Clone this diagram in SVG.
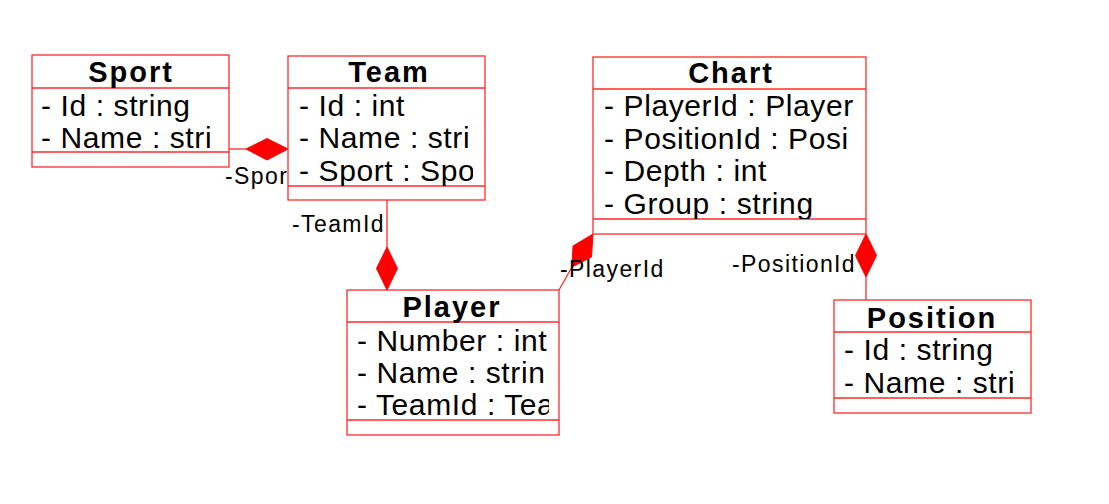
<svg xmlns="http://www.w3.org/2000/svg" width="1109" height="504" viewBox="0 0 1109 504">
<style>
.box{fill:#fff;stroke:#ff2a2a;stroke-width:1.3}
.sep{stroke:#ff2a2a;stroke-width:1.3}
.ttl{font-family:"Liberation Sans",Arial,sans-serif;font-weight:bold;font-size:29px;letter-spacing:2px;fill:#000;text-anchor:middle}
.att{font-family:"Liberation Sans",Arial,sans-serif;font-size:30px;letter-spacing:0.6px;fill:#000}
.lbl{font-family:"Liberation Sans",Arial,sans-serif;font-size:23px;letter-spacing:1.4px;fill:#000}
.ln{stroke:#ff2a2a;stroke-width:1.3;fill:none}
.dia{fill:#ff0000;stroke:#ff0000;stroke-width:1}
</style>
<defs>
<clipPath id="cSport"><rect x="32" y="88" width="185" height="64"/></clipPath>
<clipPath id="cTeam"><rect x="288" y="88" width="185" height="98"/></clipPath>
<clipPath id="cChart"><rect x="593" y="88" width="263" height="131"/></clipPath>
<clipPath id="cPlayer"><rect x="347" y="322" width="202" height="98"/></clipPath>
<clipPath id="cPosition"><rect x="834" y="332" width="186" height="66"/></clipPath>
</defs>
<rect width="1109" height="504" fill="#fff"/>
<g id="connectors">
<line class="ln" x1="229" y1="149" x2="246" y2="149"/>
<polygon class="dia" points="246,149 267,138.5 288,149 267,160"/>
<text class="lbl" x="225" y="184">-Spor</text>
<line class="ln" x1="387" y1="200" x2="387" y2="247"/>
<polygon class="dia" points="387,247 376.5,268.5 387,290 397.5,268.5"/>
<text class="lbl" x="292" y="232">-TeamId</text>
<line class="ln" x1="572" y1="267" x2="559" y2="290"/>
<polygon class="dia" points="593,234 591.5,257 572,267 573,246"/>
<text class="lbl" x="560" y="277">-PlayerId</text>
<text class="lbl" x="732" y="272">-PositionId</text>
<polygon class="dia" points="866,234 876.5,255.5 866,277 855.5,255.5"/>
<line class="ln" x1="866" y1="277" x2="866" y2="300"/>
</g>
<g id="Sport">
<rect class="box" x="32" y="55" width="197" height="112"/>
<line class="sep" x1="32" y1="88" x2="229" y2="88"/>
<line class="sep" x1="32" y1="152" x2="229" y2="152"/>
<text class="ttl" x="131" y="82">Sport</text>
<g clip-path="url(#cSport)">
<text class="att" x="41" y="116">- Id : string</text>
<text class="att" x="41" y="148">- Name : stri</text>
</g>
</g>
<g id="Team">
<rect class="box" x="288" y="56" width="197" height="144"/>
<line class="sep" x1="288" y1="88" x2="485" y2="88"/>
<line class="sep" x1="288" y1="186" x2="485" y2="186"/>
<text class="ttl" x="389" y="82">Team</text>
<g clip-path="url(#cTeam)">
<text class="att" x="299" y="116">- Id : int</text>
<text class="att" x="299" y="148">- Name : stri</text>
<text class="att" x="299" y="181">- Sport : Spo</text>
</g>
</g>
<g id="Chart">
<rect class="box" x="593" y="57" width="273" height="177"/>
<line class="sep" x1="593" y1="89" x2="866" y2="89"/>
<line class="sep" x1="593" y1="219" x2="866" y2="219"/>
<text class="ttl" x="731" y="83">Chart</text>
<g clip-path="url(#cChart)">
<text class="att" x="604" y="116">- PlayerId : Player</text>
<text class="att" x="604" y="148.5">- PositionId : Posi</text>
<text class="att" x="604" y="181">- Depth : int</text>
<text class="att" x="604" y="213.5">- Group : string</text>
</g>
</g>
<g id="Player">
<rect class="box" x="347" y="290" width="212" height="145"/>
<line class="sep" x1="347" y1="322" x2="559" y2="322"/>
<line class="sep" x1="347" y1="420" x2="559" y2="420"/>
<text class="ttl" x="452" y="317">Player</text>
<g clip-path="url(#cPlayer)">
<text class="att" x="357" y="350.5">- Number : int</text>
<text class="att" x="357" y="383">- Name : strin</text>
<text class="att" x="357" y="415">- TeamId : Tea</text>
</g>
</g>
<g id="Position">
<rect class="box" x="834" y="300" width="197" height="113"/>
<line class="sep" x1="834" y1="332" x2="1031" y2="332"/>
<line class="sep" x1="834" y1="398" x2="1031" y2="398"/>
<text class="ttl" x="932" y="328">Position</text>
<g clip-path="url(#cPosition)">
<text class="att" x="844" y="360">- Id : string</text>
<text class="att" x="844" y="393">- Name : stri</text>
</g>
</g>
</svg>
